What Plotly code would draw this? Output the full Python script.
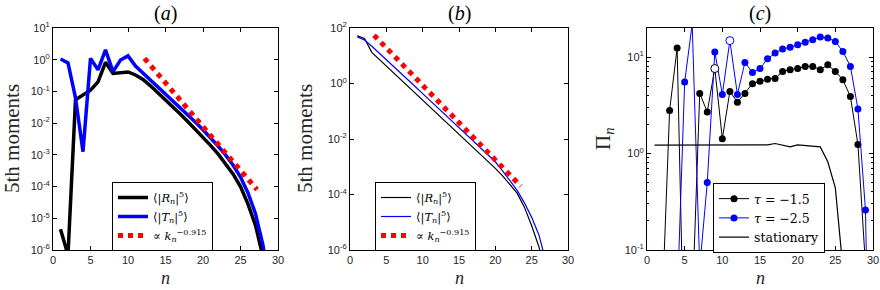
import plotly.graph_objects as go

# ---------------- data ----------------
# panel (a)
n_a_R = list(range(1, 29))
R_a = [4.5e-6, 7e-7, 0.055, 0.08, 0.11, 0.20, 0.83, 0.37, 0.39, 0.41, 0.33, 0.24,
       0.15, 0.091, 0.055, 0.032, 0.019, 0.011, 0.0063, 0.0035, 0.002, 0.00107,
       5.4e-4, 2.5e-4, 1.0e-4, 2.8e-5, 6.0e-6, 6.0e-7]
n_a_T = list(range(1, 30))
T_a = [1.05, 0.79, 0.063, 0.00126, 1.1, 0.48, 2.04, 0.42, 0.98, 1.32, 0.63, 0.38,
       0.24, 0.145, 0.087, 0.052, 0.032, 0.0186, 0.0107, 0.0062, 0.0035, 0.0019,
       0.001, 4.8e-4, 2.0e-4, 6.3e-5, 1.4e-5, 1.4e-6, 3.2e-8]
fit_a_n = [12.2, 27.2]
fit_a_v = [1.1, 8e-5]

# panel (b)
n_b = list(range(1, 28))
R_b = [52, 42, 13.2, 7.5, 4.27, 2.43, 1.38, 0.785, 0.447, 0.254, 0.145, 0.082,
       0.047, 0.0266, 0.0151, 0.0086, 0.0049, 0.0028, 0.00158, 8.7e-4, 4.7e-4,
       2.4e-4, 1.12e-4, 3.5e-5, 7.5e-6, 1.3e-6, 1.3e-7]
T_b = [48, 37, 22, 12.7, 7.2, 4.1, 2.34, 1.33, 0.76, 0.43, 0.245, 0.14, 0.079,
       0.045, 0.0257, 0.0146, 0.0083, 0.0047, 0.0027, 0.00151, 7.1e-4, 3.3e-4,
       1.41e-4, 5.0e-5, 1.5e-5, 3.5e-6, 3.5e-7]
fit_b_n = [3.3, 23.5]
fit_b_v = [55, 2.0e-4]

# panel (c)
n_c = list(range(1, 31))
tau15 = [None, 0.024, 2.8, 12.4, 0.004, 0.025, 4.2, 2.7, 7.6, 1.42, 4.4, 3.4, 4.2,
         5.3, 5.6, 5.9, 6.0, 7.1, 7.4, 7.6, 8.0, 8.0, 7.4, 8.3, 7.1, 5.8, 3.9, 1.24,
         0.07, None]
tau25 = [None, None, None, 0.028, 5.5, 22, 0.066, 0.50, 11.3, 4.1, 14.8, 4.1, 8.8,
         6.9, 7.6, 9.6, 11.0, 12.1, 12.6, 13.4, 14.2, 15.1, 16.1, 15.8, 14.5, 11.4,
         8.0, 2.9, 0.26, 2e-5]
open15_idx = 8    # n = 9 drawn hollow
open25_idx = 10   # n = 11 drawn hollow
n_stat = list(range(1, 27))
stationary = [1.22, 1.22, 1.22, 1.22, 1.22, 1.22, 1.22, 1.22, 1.22, 1.22, 1.22,
              1.21, 1.22, 1.23, 1.23, 1.23, 1.27, 1.23, 1.17, 1.23, 1.21, 1.20,
              1.17, 0.82, 0.44, 0.065]

# tick labels
x_ticks = [0, 5, 10, 15, 20, 25, 30]
exps_a = [-6, -5, -4, -3, -2, -1, 0, 1]
exps_b = [-6, -4, -2, 0, 2]
exps_c = [-1, 0, 1]
minor_c = [0.2, 0.3, 0.4, 0.5, 0.6, 0.7, 0.8, 0.9, 2, 3, 4, 5, 6, 7, 8, 9, 20]

labels_ab = ["⟨|<i>R</i><sub><i>n</i></sub>|<sup>5</sup>⟩",
             "⟨|<i>T</i><sub><i>n</i></sub>|<sup>5</sup>⟩",
             "∝ <i>k</i><sub><i>n</i></sub><sup>−0.915</sup>"]
labels_c = ["<i>τ</i> = −1.5", "<i>τ</i> = −2.5", "stationary"]
titles = ["(<i>a</i>)", "(<i>b</i>)", "(<i>c</i>)"]
ytitles = ["5th moments", "5th moments", "Π<sub><i>n</i></sub>"]
xtitle = "<i>n</i>"

# ---------------- figure ----------------
W, H = 880, 290
BLUE = "#0000ff"
RED = "#ff0000"
SERIF = "Liberation Serif"
LEGSERIF = "DejaVu Serif"
SANS = "Liberation Sans"
TXT = "#262626"

fig = go.Figure()

# (a)
fig.add_trace(go.Scatter(x=n_a_R, y=R_a, mode="lines", line=dict(color="black", width=3.5),
                         name=labels_ab[0], xaxis="x", yaxis="y", legend="legend"))
fig.add_trace(go.Scatter(x=n_a_T, y=T_a, mode="lines", line=dict(color=BLUE, width=3.5),
                         name=labels_ab[1], xaxis="x", yaxis="y", legend="legend"))
fig.add_trace(go.Scatter(x=fit_a_n, y=fit_a_v, mode="lines", line=dict(color=RED, width=5, dash="dot"),
                         name=labels_ab[2], xaxis="x", yaxis="y", legend="legend"))

# (b)
fig.add_trace(go.Scatter(x=n_b, y=R_b, mode="lines", line=dict(color="black", width=1.2),
                         name=labels_ab[0], xaxis="x2", yaxis="y2", legend="legend2"))
fig.add_trace(go.Scatter(x=n_b, y=T_b, mode="lines", line=dict(color=BLUE, width=1.2),
                         name=labels_ab[1], xaxis="x2", yaxis="y2", legend="legend2"))
fig.add_trace(go.Scatter(x=fit_b_n, y=fit_b_v, mode="lines", line=dict(color=RED, width=5, dash="dot"),
                         name=labels_ab[2], xaxis="x2", yaxis="y2", legend="legend2"))

# (c)
fig.add_trace(go.Scatter(x=n_c, y=tau15, mode="lines+markers", line=dict(color="black", width=1),
                         marker=dict(color="black", size=7), name=labels_c[0],
                         xaxis="x3", yaxis="y3", legend="legend3"))
fig.add_trace(go.Scatter(x=n_c, y=tau25, mode="lines+markers", line=dict(color=BLUE, width=1),
                         marker=dict(color=BLUE, size=7), name=labels_c[1],
                         xaxis="x3", yaxis="y3", legend="legend3"))
fig.add_trace(go.Scatter(x=n_stat, y=stationary, mode="lines", line=dict(color="black", width=1.2),
                         name=labels_c[2], xaxis="x3", yaxis="y3", legend="legend3"))
fig.add_trace(go.Scatter(x=[n_c[open15_idx]], y=[tau15[open15_idx]], mode="markers",
                         marker=dict(color="white", size=8, line=dict(color="black", width=1)),
                         showlegend=False, xaxis="x3", yaxis="y3"))
fig.add_trace(go.Scatter(x=[n_c[open25_idx]], y=[tau25[open25_idx]], mode="markers",
                         marker=dict(color="white", size=8, line=dict(color=BLUE, width=1)),
                         showlegend=False, xaxis="x3", yaxis="y3"))

ytop, ybot = 28, 250
ydom = [1 - ybot / H, 1 - ytop / H]
xpx = [(53, 278), (350, 568), (647, 873)]
xdoms = [[a / W, b / W] for a, b in xpx]

common = dict(showline=True, linecolor="black", linewidth=1, mirror="allticks",
              ticks="inside", ticklen=4, tickcolor="black", tickwidth=1,
              showgrid=False, zeroline=False, automargin=False,
              tickfont=dict(family=SANS, size=11, color=TXT))

def xax(dom, anchor):
    return dict(domain=dom, anchor=anchor, range=[0, 30], tickmode="array",
                tickvals=x_ticks, ticktext=[str(v) for v in x_ticks], **common)

def yax(rng, exps, anchor, minor=None):
    d = dict(domain=ydom, anchor=anchor, type="log", range=rng,
             tickmode="array", tickvals=[10.0 ** e for e in exps],
             ticktext=["10<sup>%d</sup>" % e for e in exps], **common)
    if minor is not None:
        d["minor"] = dict(ticks="inside", ticklen=2, tickcolor="black", tickvals=minor, showgrid=False)
    return d

def leg(x, y, size):
    return dict(x=x, y=y, bgcolor="white", bordercolor="black", borderwidth=1,
                font=dict(family=LEGSERIF, size=size, color="black"),
                xanchor="left", yanchor="top", tracegroupgap=0, itemwidth=30)

fig.update_layout(
    width=W, height=H,
    margin=dict(l=0, r=0, t=0, b=0, autoexpand=False),
    paper_bgcolor="white", plot_bgcolor="white",
    xaxis=xax(xdoms[0], "y"),
    yaxis=yax([-6, 1], exps_a, "x"),
    xaxis2=xax(xdoms[1], "y2"),
    yaxis2=yax([-6, 2], exps_b, "x2"),
    xaxis3=xax(xdoms[2], "y3"),
    yaxis3=yax([-1, 1.30103], exps_c, "x3", minor=minor_c),
    legend=leg(112 / W, 1 - 182 / H, 11.5),
    legend2=leg(375 / W, 1 - 182 / H, 11.5),
    legend3=leg(713 / W, 1 - 183 / H, 12.5),
    showlegend=True,
)

ytitle_x = [12, 305, 604]
for i in range(3):
    cx = (xdoms[i][0] + xdoms[i][1]) / 2
    fig.add_annotation(text=titles[i], x=cx, y=1 - 14 / H, xref="paper", yref="paper",
                       showarrow=False, xanchor="center", yanchor="middle",
                       font=dict(family=SERIF, size=20, color="black"))
    fig.add_annotation(text=xtitle, x=cx, y=1 - 266 / H, xref="paper", yref="paper",
                       showarrow=False, xanchor="center", yanchor="top",
                       font=dict(family=SERIF, size=18, color=TXT))
    fig.add_annotation(text=ytitles[i], x=ytitle_x[i] / W, y=1 - 139 / H, xref="paper", yref="paper",
                       showarrow=False, xanchor="center", yanchor="middle", textangle=-90,
                       font=dict(family=SERIF, size=21, color=TXT))

fig.write_html("out.html", config={"displayModeBar": False},
               post_script="document.body.style.margin='0px';")
